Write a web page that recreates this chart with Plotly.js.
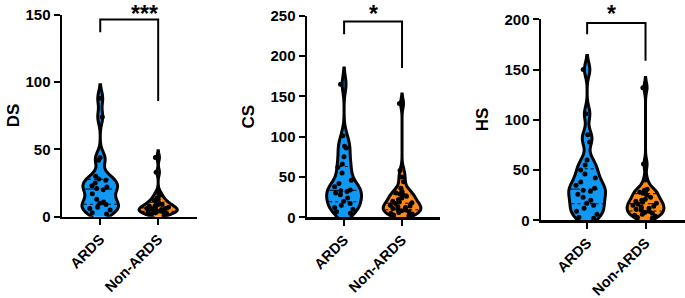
<!DOCTYPE html>
<html><head><meta charset="utf-8">
<script src="https://cdn.plot.ly/plotly-3.0.1.min.js"></script>
<style>html,body{margin:0;padding:0;background:#fff}</style>
</head><body><div id="chart" style="width:685px;height:298px"></div>
<script>
const categories = ['ARDS', 'Non-ARDS'];
const yTitles = ['DS', 'CS', 'HS'];
const significance = ['***', '*', '*'];

const dsARDS = [2, 3, 5, 6, 7, 9, 10, 11, 13, 17, 20, 21, 22, 23, 25, 27, 28, 30, 42, 44, 74, 88];
const dsNonARDS = [1, 2, 2, 3, 3, 3, 4, 4, 4, 5, 5, 5, 6, 6, 6, 7, 7, 8, 8, 9, 9, 10, 11, 12, 13, 14, 16, 18, 33, 44];
const csARDS = [5, 7, 10, 12, 15, 17, 20, 24, 28, 30, 32, 33, 34, 38, 42, 46, 55, 62, 66, 75, 86, 88, 101, 165];
const csNonARDS = [2, 3, 4, 5, 6, 7, 8, 9, 10, 11, 12, 13, 14, 15, 17, 18, 19, 20, 22, 24, 26, 28, 29, 30, 32, 36, 44, 50, 58, 141];
const hsARDS = [2, 3, 6, 9, 12, 15, 17, 20, 23, 26, 29, 30, 32, 35, 38, 42, 46, 50, 55, 60, 78, 85, 106, 150];
const hsNonARDS = [2, 3, 4, 5, 6, 7, 8, 9, 10, 11, 12, 13, 14, 15, 16, 17, 18, 19, 20, 21, 23, 25, 27, 28, 29, 30, 31, 40, 56, 132];

const W = 685, H = 298;
const BLUE = 'rgb(16,152,245)', ORANGE = 'rgb(255,140,18)';
const FONT = 'Liberation Sans, Arial, sans-serif';

const panels = [
  {data: [dsARDS, dsNonARDS], bw: [5, 2.5], wid: [0.63, 0.66], ymax: 150, dtick: 50,
   xPix: [62, 197], yPix: [216.7, 14.7], range: [-0.66, 1.67], bracket: [137, 146.5, 86], starX: 130, titleX: 2},
  {data: [csARDS, csNonARDS], bw: [10, 6], wid: [0.6, 0.65], ymax: 250, dtick: 50,
   xPix: [307, 440], yPix: [217.3, 15.7], range: [-0.64, 1.655], bracket: [227, 242.7, 185], starX: 373, titleX: 248},
  {data: [hsARDS, hsNonARDS], bw: [7, 5], wid: [0.63, 0.63], ymax: 200, dtick: 50,
   xPix: [541, 685], yPix: [220.3, 19.3], range: [-0.79, 1.676], bracket: [185, 196.4, 158.8], starX: 617, titleX: 494}
];

function kde(vals, bw, y) {
  let s = 0;
  for (const v of vals) { const z = (y - v) / bw; s += Math.exp(-0.5 * z * z); }
  return s / (vals.length * bw * Math.sqrt(2 * Math.PI));
}
function quantile(vals, p) {
  const s = vals.slice().sort((a, b) => a - b);
  const pos = (s.length - 1) * p, lo = Math.floor(pos), hi = Math.ceil(pos);
  return s[lo] + (s[hi] - s[lo]) * (pos - lo);
}
function halfWidth(vals, bw, width, y) {
  const lo = Math.min(...vals) - 2 * bw, hi = Math.max(...vals) + 2 * bw;
  let maxD = 0;
  for (let i = 0; i <= 400; i++) { maxD = Math.max(maxD, kde(vals, bw, lo + (hi - lo) * i / 400)); }
  return width / 2 * kde(vals, bw, y) / maxD;
}

const traces = [], shapes = [], annotations = [];
const layout = {
  width: W, height: H, margin: {l: 0, r: 0, t: 0, b: 0},
  paper_bgcolor: '#fff', plot_bgcolor: '#fff', showlegend: false,
  font: {family: FONT, color: '#000'}, shapes, annotations
};

panels.forEach((p, k) => {
  const sfx = k === 0 ? '' : String(k + 1);
  const xa = 'x' + sfx, ya = 'y' + sfx;
  const tickFont = {family: FONT, size: 14.5, weight: 700, color: '#000'};
  layout['xaxis' + sfx] = {
    domain: [p.xPix[0] / W, p.xPix[1] / W], anchor: ya, type: 'category',
    categoryorder: 'array', categoryarray: categories, range: p.range,
    tickvals: categories, ticktext: categories.map(c => '<b>' + c + '</b>'),
    showline: true, linewidth: 2.5, linecolor: '#000', ticks: 'outside', ticklen: 6, tickwidth: 2,
    tickcolor: '#000', tickangle: -45, tickfont: tickFont, showgrid: false, zeroline: false, fixedrange: true
  };
  layout['yaxis' + sfx] = {
    domain: [(H - p.yPix[0]) / H, (H - p.yPix[1]) / H], anchor: xa, range: [0, p.ymax], dtick: p.dtick,
    tickprefix: '<b>', ticksuffix: '</b>',
    showline: true, linewidth: 2.5, linecolor: '#000', ticks: 'outside', ticklen: 6, tickwidth: 2,
    tickcolor: '#000', tickfont: {family: FONT, size: 15, weight: 700, color: '#000'},
    showgrid: false, zeroline: false, fixedrange: true
  };
  p.data.forEach((vals, i) => {
    traces.push({
      type: 'violin', x0: categories[i], y: vals, xaxis: xa, yaxis: ya,
      bandwidth: p.bw[i], width: p.wid[i], spanmode: 'soft',
      line: {color: '#000', width: 3}, fillcolor: i === 0 ? BLUE : ORANGE,
      points: 'all', pointpos: 0, jitter: 0.7,
      marker: {color: '#000', size: 5, line: {width: 0}},
      box: {visible: false}, meanline: {visible: false}, hoverinfo: 'skip'
    });
    [[0.25, 'dot'], [0.5, 'dash'], [0.75, 'dot']].forEach(([q, dash]) => {
      const yq = quantile(vals, q);
      const hw = halfWidth(vals, p.bw[i], p.wid[i], yq) - 0.03;
      shapes.push({type: 'line', xref: xa, yref: ya, x0: i - hw, x1: i + hw, y0: yq, y1: yq,
        line: {color: '#000', width: 1, dash: dash}, layer: 'above'});
    });
  });
  const [l, t, r] = p.bracket;
  shapes.push({type: 'path', xref: xa, yref: ya,
    path: `M 0 ${l} L 0 ${t} L 1 ${t} L 1 ${r}`, line: {color: '#000', width: 2}});
  annotations.push({xref: 'paper', yref: 'paper', x: p.starX / W, y: 1, yanchor: 'top',
    text: '<b>' + significance[k] + '</b>', showarrow: false, borderpad: 0,
    font: {family: FONT, size: 23, weight: 700, color: '#000'}});
  annotations.push({xref: 'paper', yref: 'paper', x: p.titleX / W, y: (H - (p.yPix[0] + p.yPix[1]) / 2) / H,
    text: '<b>' + yTitles[k] + '</b>', textangle: -90, showarrow: false,
    font: {family: FONT, size: 17, weight: 700, color: '#000'}});
});

Plotly.newPlot('chart', traces, layout, {staticPlot: true, displayModeBar: false});
</script></body></html>
